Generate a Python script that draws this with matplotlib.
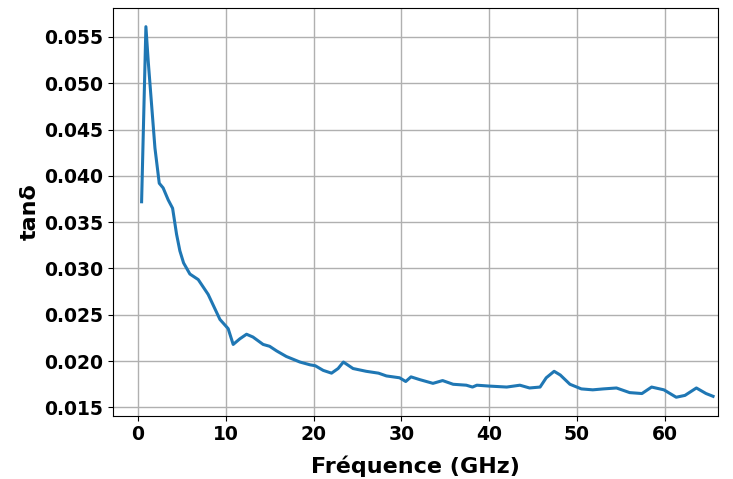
import matplotlib
matplotlib.use('Agg')
import matplotlib.pyplot as plt

# values
freq_ghz = [0.42, 0.91, 1.18, 1.94, 2.43, 2.87, 3.45, 3.95, 4.4, 4.78, 5.2,
            5.92, 6.87, 8.0, 9.34, 10.28, 10.85, 11.6, 12.37, 13.1, 14.26,
            15.0, 15.8, 16.9, 18.45, 19.6, 20.2, 21.1, 22.05, 22.8, 23.4,
            24.5, 26.0, 27.4, 28.3, 29.8, 30.5, 31.1, 32.1, 33.6, 34.7,
            35.9, 37.4, 38.1, 38.6, 40.1, 42.0, 43.5, 44.6, 45.8, 46.5,
            47.4, 48.1, 49.2, 50.5, 51.8, 53.0, 54.5, 56.0, 57.4, 58.5,
            59.9, 61.3, 62.3, 63.6, 64.7, 65.5]
tan_delta = [0.0372, 0.0561, 0.0523, 0.0430, 0.0392, 0.0387, 0.0374, 0.0365,
             0.0337, 0.0319, 0.0306, 0.0294, 0.0288, 0.0272, 0.0245, 0.0235,
             0.0218, 0.0224, 0.0229, 0.0226, 0.0218, 0.0216, 0.0211, 0.0205,
             0.0199, 0.0196, 0.0195, 0.0190, 0.0187, 0.0192, 0.0199, 0.0192,
             0.0189, 0.0187, 0.0184, 0.0182, 0.0178, 0.0183, 0.0180, 0.0176,
             0.0179, 0.0175, 0.0174, 0.0172, 0.0174, 0.0173, 0.0172, 0.0174,
             0.0171, 0.0172, 0.0182, 0.0189, 0.0185, 0.0175, 0.0170, 0.0169,
             0.0170, 0.0171, 0.0166, 0.0165, 0.0172, 0.0169, 0.0161, 0.0163,
             0.0171, 0.0165, 0.0162]

fig = plt.figure(figsize=(7.33, 4.79), dpi=100)
ax = fig.add_axes([0.154, 0.132, 0.826, 0.851])

ax.plot(freq_ghz, tan_delta, color='#1f77b4', lw=2.2)
ax.set_xlim(-2.85, 66.1)
ax.grid(True, color='#b0b0b0', lw=1.0)
ax.set_axisbelow(True)

ax.set_xlabel('Fréquence (GHz)', fontsize=16, fontweight='bold', labelpad=8)
ax.set_ylabel('tanδ', fontsize=16, fontweight='bold', labelpad=3)
ax.tick_params(labelsize=13.5)
for lbl in ax.get_xticklabels() + ax.get_yticklabels():
    lbl.set_fontweight('bold')

fig.savefig('out.png', dpi=100, facecolor='white')
